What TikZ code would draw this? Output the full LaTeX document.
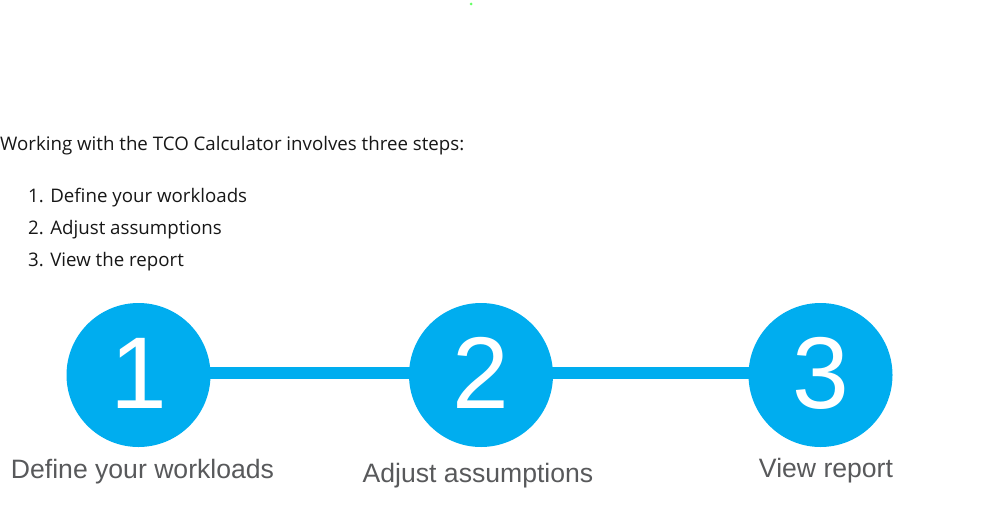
\documentclass[tikz,border=0pt]{standalone}
\usepackage{fontspec}
\setmainfont{Open Sans}
\newfontfamily\arialfont{Liberation Sans}
\definecolor{stepblue}{HTML}{00ADEF}
\definecolor{labelgray}{HTML}{58595B}
\definecolor{bodytext}{HTML}{171717}
\begin{document}
\begin{tikzpicture}[x=1pt,y=-1pt,
  stepcircle/.style={circle,fill=stepblue,minimum size=144pt,inner sep=0pt},
  stepdigit/.style={anchor=base,inner sep=0pt,text=white,font=\arialfont\fontsize{102}{102}\selectfont},
  steplabel/.style={anchor=base,text=labelgray,font=\arialfont\fontsize{26.6}{30}\selectfont,inner sep=0pt},
  bodyline/.style={anchor=base west,text=bodytext,font=\fontsize{18.7}{22}\selectfont,inner sep=0pt},
  link/.style={draw=stepblue,line width=12pt}]
\useasboundingbox (0,0) rectangle (992,527);
\fill[green!60!white] (471,4) circle (1.5);
\node[bodyline] (intro) at (0,150) {Working with the TCO Calculator involves three steps:};
\node[bodyline] (i1) at (28,202) {1. Define your workloads};
\node[bodyline] (i2) at (28,234) {2. Adjust assumptions};
\node[bodyline] (i3) at (28,266) {3. View the report};
\coordinate (c1) at (138.5,375);
\coordinate (c2) at (481,375);
\coordinate (c3) at (820.5,375);
\path (c1) ++(0,-2) coordinate (l1) (c3) ++(0,-2) coordinate (l3);
\draw[link] (l1) -- (l3);
\node[stepcircle] (s1) at (c1) {};
\node[stepcircle] (s2) at (c2) {};
\node[stepcircle] (s3) at (c3) {};
\node[stepdigit] (d1) at ([yshift=-33pt]s1.center) {1};
\node[stepdigit] (d2) at ([yshift=-33pt]s2.center) {2};
\node[stepdigit] (d3) at ([yshift=-33pt]s3.center) {3};
\node[steplabel] (t1) at (142.5,478) {Define your workloads};
\node[steplabel] (t2) at (478,482) {Adjust assumptions};
\node[steplabel] (t3) at (826,477) {View report};
\end{tikzpicture}
\end{document}
